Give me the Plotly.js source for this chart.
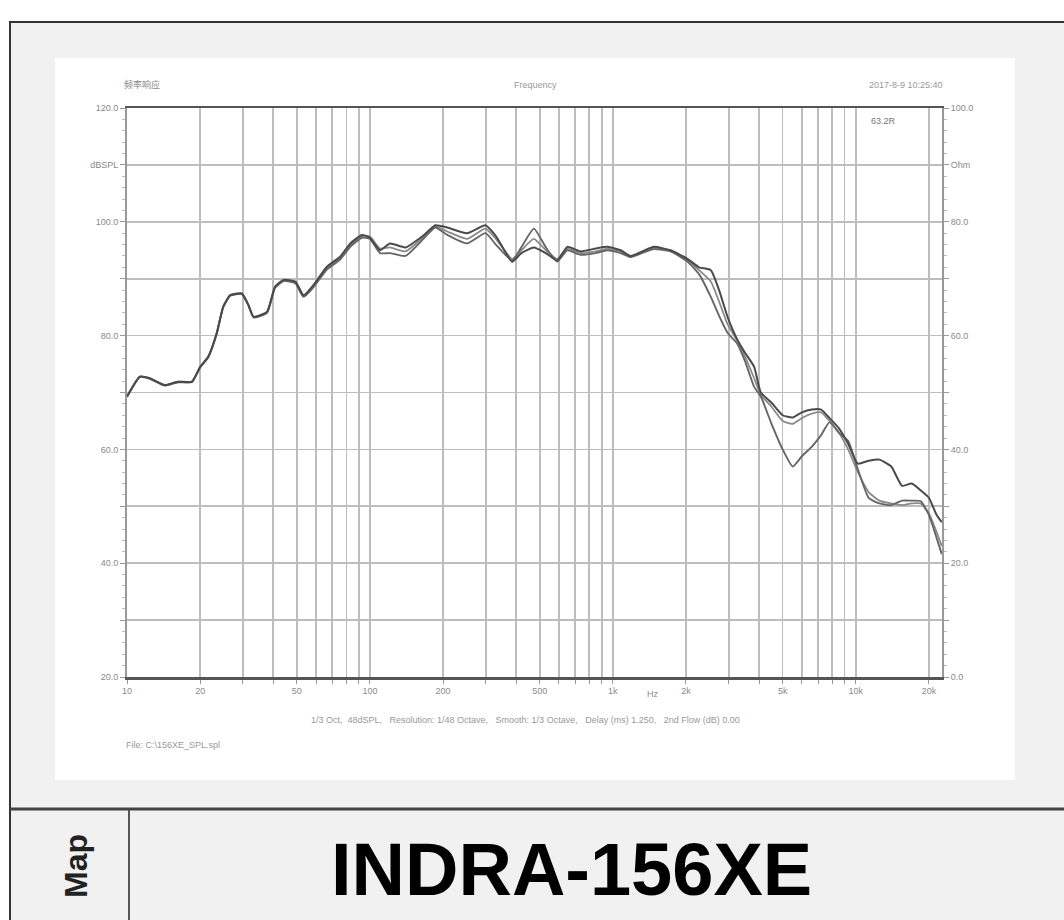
<!DOCTYPE html>
<html>
<head>
<meta charset="utf-8">
<script src="https://cdn.plot.ly/plotly-3.0.1.min.js"></script>
<style>html,body{margin:0;padding:0;background:#fff;}#chart{width:1064px;height:920px;}</style>
</head>
<body>
<div id="chart"></div>
<script>
// ---- data ----
const freqHz = [10, 11.3, 12.4, 14.3, 16.2, 18.5, 20, 21.6, 23.4, 24.9, 26.6, 29.7, 31.6, 33.2, 37.7, 40.7, 44.1, 49.3, 53.3, 58.6, 66.5, 75.5, 83, 92.8,
  100, 110, 121, 140, 166, 186, 208, 251, 299, 330, 385, 420, 473, 530, 590, 650, 737, 850, 949, 1077, 1184, 1320, 1478, 1730, 2028, 2264,
  2531, 2737, 2966, 3261, 3500, 3817, 4066, 4500, 5000, 5500, 6000, 6600, 7200, 7800, 8500, 9300, 10200, 11300, 12500, 14000, 15500, 17000, 18500, 20000, 21500, 22600];

const splA = [69.3, 72.8, 72.5, 71.3, 71.9, 71.9, 74.5, 76.3, 80.4, 85.1, 87.1, 87.4, 85.4, 83.3, 84.2, 88.6, 89.8, 89.5, 87.1, 88.9, 92.1, 93.9, 96.2, 97.7,
  97.2, 95.0, 96.2, 95.5, 97.6, 99.4, 99.0, 98.0, 99.4, 97.5, 93.0, 94.5, 95.5, 94.5, 93.2, 95.6, 94.8, 95.3, 95.6, 95.0, 94.0, 94.8, 95.6, 95.0, 93.5, 92.0,
  91.5, 88.0, 83.3, 79.2, 77.0, 74.5, 70.0, 68.2, 66.0, 65.6, 66.5, 67.0, 67.0, 65.5, 63.8, 61.0, 57.5, 58.0, 58.2, 57.0, 53.6, 54.0, 52.8, 51.5, 48.5, 47.2];

const splB = [69.2, 72.7, 72.4, 71.2, 71.8, 71.8, 74.4, 76.2, 80.3, 85.0, 87.0, 87.3, 85.3, 83.2, 84.0, 88.4, 89.6, 89.2, 86.8, 88.5, 91.6, 93.4, 95.6, 97.2,
  97.0, 94.5, 94.5, 94.0, 97.0, 99.0, 97.7, 96.2, 98.0, 96.0, 93.2, 95.5, 98.8, 95.5, 93.0, 95.0, 94.2, 94.5, 95.0, 94.5, 93.8, 94.5, 95.2, 94.8, 93.0, 90.8,
  86.8, 83.5, 80.5, 78.5, 75.5, 71.0, 69.3, 64.5, 60.0, 57.0, 58.8, 60.5, 62.5, 64.8, 63.0, 61.5, 56.5, 51.5, 50.5, 50.2, 51.0, 51.0, 50.9, 48.5, 44.5, 41.6];

const splC = [69.3, 72.8, 72.5, 71.3, 71.9, 71.9, 74.5, 76.3, 80.4, 85.1, 87.1, 87.4, 85.4, 83.3, 84.1, 88.5, 89.7, 89.4, 87.0, 88.7, 91.9, 93.6, 95.9, 97.5,
  97.4, 95.3, 95.5, 94.8, 97.3, 99.2, 98.3, 97.0, 98.8, 97.0, 93.5, 95.0, 97.0, 95.0, 93.5, 95.3, 94.5, 94.8, 95.3, 94.8, 93.9, 94.6, 95.4, 94.9, 93.3, 91.5,
  89.5, 86.0, 82.0, 79.0, 76.3, 72.5, 69.6, 67.5, 65.0, 64.5, 65.5, 66.3, 66.5, 65.0, 63.0, 60.0, 56.0, 52.5, 51.0, 50.5, 50.2, 50.5, 50.5, 48.8, 45.5, 43.0];

const gridFreqs = [10, 20, 30, 40, 50, 60, 70, 80, 90, 100, 200, 300, 400, 500, 600, 700, 800, 900, 1000, 2000, 3000, 4000, 5000, 6000, 7000, 8000, 9000, 10000, 20000];
const freqLabels = ['10', '20', '', '', '50', '', '', '', '', '100', '200', '', '', '500', '', '', '', '', '1k', '2k', '', '', '5k', '', '', '', '', '10k', '20k'];
const splTicks = [20, 30, 40, 50, 60, 70, 80, 90, 100, 110, 120];
const splLabels = ['20.0', '', '40.0', '', '60.0', '', '80.0', '', '100.0', 'dBSPL', '120.0'];
const ohmTicks = [0, 10, 20, 30, 40, 50, 60, 70, 80, 90, 100];
const ohmLabels = ['0.0', '', '20.0', '', '40.0', '', '60.0', '', '80.0', 'Ohm', '100.0'];

// ---- layout helpers ----
const W = 1064, H = 920, L = 127, R = 122, T = 108, B = 243;
const px = x => (x - L) / (W - L - R);
const py = y => (H - B - y) / (H - T - B);

const lineStyle = (c, w) => ({ color: c, width: w, shape: 'spline', smoothing: 0.5 });
const traces = [
  { x: freqHz, y: splC, type: 'scatter', mode: 'lines', line: lineStyle('#8a8a8a', 1.8), hoverinfo: 'skip' },
  { x: freqHz, y: splB, type: 'scatter', mode: 'lines', line: lineStyle('#666666', 1.9), hoverinfo: 'skip' },
  { x: freqHz, y: splA, type: 'scatter', mode: 'lines', line: lineStyle('#4a4a4a', 2), hoverinfo: 'skip' },
  { x: [], y: [], yaxis: 'y2', type: 'scatter', mode: 'lines', hoverinfo: 'skip' }
];

const tickFont = { family: 'Liberation Sans, Arial, sans-serif', size: 9, color: '#8a8a8a' };

const shapes = [
  { type: 'rect', xref: 'paper', yref: 'paper', x0: px(10), x1: px(1066), y0: py(22), y1: py(922), fillcolor: '#f1f1f1', line: { color: '#333', width: 2 }, layer: 'below' },
  { type: 'rect', xref: 'paper', yref: 'paper', x0: px(55), x1: px(1015), y0: py(58), y1: py(780), fillcolor: '#ffffff', line: { width: 0 }, layer: 'below' },
  { type: 'line', xref: 'paper', yref: 'paper', x0: px(10), x1: px(1066), y0: py(809), y1: py(809), line: { color: '#444', width: 3 }, layer: 'below' },
  { type: 'line', xref: 'paper', yref: 'paper', x0: px(129), x1: px(129), y0: py(810), y1: py(922), line: { color: '#555', width: 2 }, layer: 'below' }
];

const annFont = (s, c) => ({ family: 'Liberation Sans, Arial, sans-serif', size: s, color: c });
const annotations = [
  { xref: 'paper', yref: 'paper', x: px(122), y: py(85), xanchor: 'left', yanchor: 'middle', text: '频率响应', showarrow: false, font: { family: 'Noto Sans CJK SC, sans-serif', size: 9, color: '#888' } },
  { xref: 'paper', yref: 'paper', x: px(535), y: py(85), xanchor: 'center', yanchor: 'middle', text: 'Frequency', showarrow: false, font: annFont(9, '#999') },
  { xref: 'paper', yref: 'paper', x: px(945), y: py(85), xanchor: 'right', yanchor: 'middle', text: '2017-8-9 10:25:40', showarrow: false, font: annFont(9, '#999') },
  { xref: 'paper', yref: 'paper', x: px(898), y: py(121), xanchor: 'right', yanchor: 'middle', text: '63.2R', showarrow: false, font: annFont(9, '#777') },
  { xref: 'paper', yref: 'paper', x: px(653), y: py(694), xanchor: 'center', yanchor: 'middle', text: 'Hz', showarrow: false, font: tickFont },
  { xref: 'paper', yref: 'paper', x: px(525), y: py(720), xanchor: 'center', yanchor: 'middle', text: '1/3 Oct,  48dSPL,   Resolution: 1/48 Octave,   Smooth: 1/3 Octave,   Delay (ms) 1.250,   2nd Flow (dB) 0.00', showarrow: false, font: annFont(9, '#999') },
  { xref: 'paper', yref: 'paper', x: px(124), y: py(745), xanchor: 'left', yanchor: 'middle', text: 'File: C:\\156XE_SPL.spl', showarrow: false, font: annFont(9, '#999') },
  { xref: 'paper', yref: 'paper', x: px(76), y: py(866), xanchor: 'center', yanchor: 'middle', text: '<b>Map</b>', textangle: -90, showarrow: false, font: annFont(32, '#222') },
  { xref: 'paper', yref: 'paper', x: px(571), y: py(870), xanchor: 'center', yanchor: 'middle', text: '<b>INDRA-156XE</b>', showarrow: false, font: annFont(74, '#000') }
];

const layout = {
  width: W, height: H,
  margin: { l: L, r: R, t: T, b: B, pad: 0 },
  paper_bgcolor: '#ffffff', plot_bgcolor: '#ffffff',
  showlegend: false,
  xaxis: {
    type: 'log', range: [1, 4.355], tickmode: 'array', tickvals: gridFreqs, ticktext: freqLabels,
    showgrid: true, gridcolor: '#bdbdbd', gridwidth: 1.6,
    showline: true, mirror: true, linecolor: '#555', linewidth: 2.5,
    ticks: 'outside', ticklen: 4, tickcolor: '#999', tickfont: tickFont, zeroline: false
  },
  yaxis: {
    range: [20, 120], tickmode: 'array', tickvals: splTicks, ticktext: splLabels,
    showgrid: true, gridcolor: '#bdbdbd', gridwidth: 1.6,
    showline: true, linecolor: '#999', linewidth: 2,
    ticks: 'outside', ticklen: 5, tickcolor: '#999', tickfont: tickFont, zeroline: false,
    minor: { dtick: 2, ticks: 'outside', ticklen: 3, tickcolor: '#bbb', showgrid: false }
  },
  yaxis2: {
    overlaying: 'y', side: 'right', range: [0, 100], tickmode: 'array', tickvals: ohmTicks, ticktext: ohmLabels,
    showgrid: false, showline: true, linecolor: '#999', linewidth: 2,
    ticks: 'outside', ticklen: 5, tickcolor: '#999', tickfont: tickFont, zeroline: false,
    minor: { dtick: 2, ticks: 'outside', ticklen: 3, tickcolor: '#bbb', showgrid: false }
  },
  shapes: shapes,
  annotations: annotations
};

Plotly.newPlot('chart', traces, layout, { staticPlot: true, displayModeBar: false });
</script>
</body>
</html>
